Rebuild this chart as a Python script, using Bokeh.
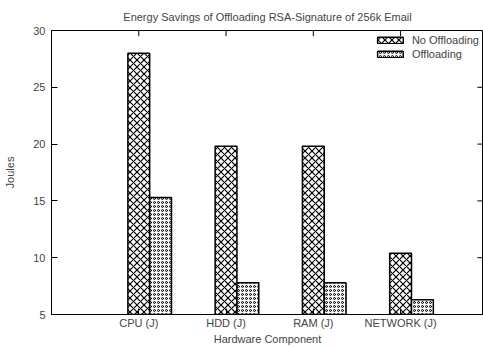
from bokeh.plotting import figure
from bokeh.models import (ColumnDataSource, FixedTicker, Legend, LegendItem, Range1d)
from bokeh.embed import file_html
from bokeh.resources import INLINE

categories = ["CPU (J)", "HDD (J)", "RAM (J)", "NETWORK (J)"]
no_offloading = [28.0, 19.8, 19.8, 10.4]
offloading = [15.3, 7.8, 7.8, 6.3]
y_ticks = [5, 10, 15, 20, 25, 30]

FONT = "Liberation Sans"
FS = "11px"

pos = [i + 1 for i in range(len(categories))]
bar_w = 0.25
X_END = 4.95
Y_MIN, Y_MAX = 5, 30

src = ColumnDataSource(dict(
    x0=pos,
    x1=[p_ + bar_w for p_ in pos],
    no=no_offloading,
    off=offloading,
))

p = figure(width=483, height=347, output_backend="svg", toolbar_location=None,
           x_range=Range1d(0, X_END), y_range=Range1d(Y_MIN, Y_MAX),
           min_border_left=51, min_border_right=0, min_border_top=29, min_border_bottom=32,
           title="Energy Savings of Offloading RSA-Signature of 256k Email",
           styles={"margin": "0px"})

p.title.text_font = FONT
p.title.text_font_size = FS
p.title.text_font_style = "normal"
p.title.align = "center"
p.title.offset = 0
p.title.standoff = 16

p.grid.visible = False
p.outline_line_color = "black"
p.outline_line_width = 1
p.background_fill_color = "white"
p.border_fill_color = "white"

r1 = p.vbar(x="x0", top="no", bottom=Y_MIN, width=bar_w, source=src,
            fill_color="white", line_color="black", line_width=1.5,
            hatch_pattern="diagonal_cross", hatch_color="black", hatch_scale=7, hatch_weight=1.2)
r2 = p.vbar(x="x1", top="off", bottom=Y_MIN, width=bar_w, source=src,
            fill_color="white", line_color="black", line_width=1.5,
            hatch_pattern="ring", hatch_color="black", hatch_scale=4, hatch_weight=1)

# mirrored ticks (top at categories, right at y ticks)
tick_dy = 0.5
p.segment(x0=pos, x1=pos, y0=[Y_MAX] * len(pos), y1=[Y_MAX - tick_dy] * len(pos),
          line_color="black", line_width=1)
inner = y_ticks[1:-1]
p.segment(x0=[X_END - 0.07] * len(inner), x1=[X_END] * len(inner), y0=inner, y1=inner,
          line_color="black", line_width=1)

# bottom axis
xa = p.xaxis[0]
xa.ticker = FixedTicker(ticks=pos)
xa.major_label_overrides = {pp: c for pp, c in zip(pos, categories)}
xa.major_tick_in = 6
xa.major_tick_out = 0
xa.minor_tick_line_color = None
xa.axis_label = "Hardware Component"
xa.axis_label_text_font = FONT
xa.axis_label_text_font_size = FS
xa.axis_label_text_font_style = "normal"
xa.axis_label_standoff = 1
xa.major_label_text_font = FONT
xa.major_label_text_font_size = FS
xa.major_label_standoff = 2
xa.axis_line_width = 1

ya = p.yaxis[0]
ya.ticker = FixedTicker(ticks=y_ticks)
ya.major_tick_in = 6
ya.major_tick_out = 0
ya.minor_tick_line_color = None
ya.axis_label = "Joules"
ya.axis_label_text_font = FONT
ya.axis_label_text_font_size = FS
ya.axis_label_text_font_style = "normal"
ya.axis_label_standoff = 14
ya.major_label_text_font = FONT
ya.major_label_text_font_size = FS
ya.major_label_standoff = 6

legend = Legend(items=[LegendItem(label="No Offloading", renderers=[r1]),
                       LegendItem(label="Offloading", renderers=[r2])],
                location="top_right", border_line_color=None, background_fill_alpha=0,
                label_text_font=FONT, label_text_font_size=FS,
                glyph_width=32, glyph_height=8, spacing=2, padding=2, margin=4,
                label_height=9, label_standoff=6)
p.add_layout(legend)

open("out.html", "w").write(file_html(p, INLINE))
